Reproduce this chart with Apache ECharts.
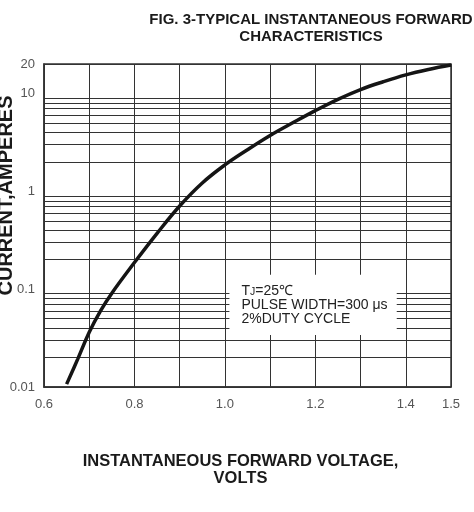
<!DOCTYPE html>
<html>
<head>
<meta charset="UTF-8">
<title>Forward characteristics</title>
<script src="https://cdn.jsdelivr.net/npm/echarts@6.0.0/dist/echarts.min.js"></script>
<style>
html, body { margin: 0; padding: 0; background: #fff; }
#main { width: 474px; height: 512px; }
</style>
</head>
<body>
<div id="main"></div>
<script>
// forward voltage (V) and instantaneous current (A)
var voltage = [0.65, 0.675, 0.7, 0.725, 0.75, 0.8, 0.85, 0.9, 0.95, 1.0, 1.05, 1.1, 1.15, 1.2, 1.25, 1.3, 1.35, 1.4, 1.45, 1.5];
var current = [0.0107, 0.0195, 0.0363, 0.060, 0.091, 0.187, 0.372, 0.708, 1.216, 1.86, 2.66, 3.72, 5.01, 6.68, 8.71, 10.96, 13.18, 15.49, 17.58, 19.5];

// tick labels
var xLabels = [0.6, 0.8, 1.0, 1.2, 1.4, 1.5];
var yLabels = [0.01, 0.1, 1, 10, 20];

// horizontal grid lines of the log paper (no line on the decades themselves)
var yGridLines = [0.01, 0.02, 0.03, 0.04, 0.05, 0.06, 0.07, 0.08, 0.09,
                  0.2, 0.3, 0.4, 0.5, 0.6, 0.7, 0.8, 0.9,
                  2, 3, 4, 5, 6, 7, 8, 9, 20];

var noteLines = ['{t|T}{s|J}{t|=25℃}', '{t|PULSE WIDTH=300 μs}', '{t|2%DUTY CYCLE}'];

var points = [];
for (var i = 0; i < voltage.length; i++) {
	points.push([voltage[i], current[i]]);
}

var chart = echarts.init(document.getElementById('main'));
var font = '"Liberation Sans", Arial, sans-serif';

var option = {
	backgroundColor: '#fff',
	animation: false,
	textStyle: { fontFamily: font },
	title: {
		text: 'FIG. 3-TYPICAL INSTANTANEOUS FORWARD\nCHARACTERISTICS',
		left: 306,
		textAlign: 'center',
		top: 6,
		textStyle: { fontFamily: font, fontSize: 15, fontWeight: 'bold', color: '#1a1a1a', lineHeight: 17 }
	},
	grid: {
		left: 44,
		right: 23,
		top: 64,
		bottom: 125,
		outerBoundsMode: 'none',
		containLabel: false,
		show: true,
		borderColor: '#333',
		borderWidth: 1.5,
		backgroundColor: '#fff'
	},
	xAxis: {
		type: 'value',
		min: 0.6,
		max: 1.5,
		interval: 0.1,
		axisLine: { show: true, lineStyle: { color: '#333', width: 1.5 } },
		axisTick: { show: false },
		axisLabel: {
			customValues: xLabels,
			color: '#555',
			fontSize: 13,
			margin: 11,
			formatter: function (v) { return v.toFixed(1); }
		},
		splitLine: { show: true, lineStyle: { color: '#333', width: 1 } },
		name: 'INSTANTANEOUS FORWARD VOLTAGE,\nVOLTS',
		nameLocation: 'middle',
		nameGap: 66,
		nameMoveOverlap: false,
		nameTextStyle: { fontFamily: font, fontSize: 16.5, fontWeight: 'bold', color: '#1a1a1a', lineHeight: 17, padding: [0, 14, 0, 0] }
	},
	yAxis: {
		type: 'log',
		logBase: 10,
		min: 0.01,
		max: 20,
		axisLine: { show: true, lineStyle: { color: '#333', width: 1.5 } },
		axisTick: { show: false, customValues: yGridLines },
		axisLabel: {
			customValues: yLabels,
			color: '#555',
			fontSize: 13,
			margin: 9,
			formatter: function (v) { return String(v); }
		},
		splitLine: { show: true, lineStyle: { color: '#333', width: 1 } },
		name: 'CURRENT,AMPERES',
		nameLocation: 'middle',
		nameRotate: 90,
		nameGap: 28,
		nameMoveOverlap: false,
		nameTextStyle: { fontFamily: font, fontSize: 20, fontWeight: 'bold', color: '#1a1a1a', padding: [0, 0, 0, 60] }
	},
	series: [{
		type: 'line',
		data: points,
		showSymbol: false,
		smooth: 0.4,
		lineStyle: { color: '#151515', width: 3.5 },
		markArea: {
			silent: true,
			itemStyle: { color: '#fff' },
			label: {
				show: true,
				position: 'insideLeft',
				distance: 12,
				formatter: noteLines.join('\n'),
				rich: {
					t: { fontFamily: font, fontSize: 14, color: '#222', lineHeight: 14 },
					s: { fontFamily: font, fontSize: 10.5, color: '#222', lineHeight: 14, verticalAlign: 'bottom' }
				}
			},
			data: [[{ xAxis: 1.01, yAxis: 0.14 }, { xAxis: 1.38, yAxis: 0.034 }]]
		}
	}]
};

chart.setOption(option);
</script>
</body>
</html>
